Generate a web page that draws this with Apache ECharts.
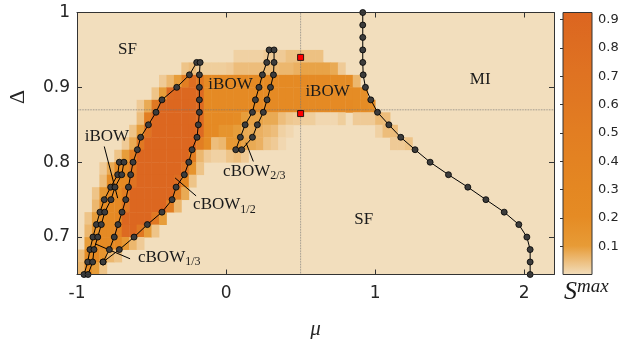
<!DOCTYPE html>
<html>
<head>
<meta charset="utf-8">
<script src="https://cdn.jsdelivr.net/npm/echarts@6/dist/echarts.min.js"></script>
<style>
html, body { margin: 0; padding: 0; background: #fff; }
#chart { width: 625px; height: 339px; }
</style>
</head>
<body>
<div id="chart"></div>
<script>
// simulation grid: mu every 0.05, delta every 1/60 starting at 0.65
var muStep = 0.05;
var deltaStep = 1 / 60;
var deltaStart = 0.65;

var muTicks = [-1, 0, 1, 2];
var deltaTicks = [0.7, 0.8, 0.9, 1];
var cbarTicks = [0.1, 0.2, 0.3, 0.4, 0.5, 0.6, 0.7, 0.8, 0.9];
var smaxTop = 0.925;

// colour map for S^max, evenly spread over 0..smaxTop
var cmap = ['#f2debd', '#e79b36', '#e58b24', '#e48722', '#e38222',
            '#e27d22', '#e07722', '#df7222', '#dd6c21', '#dc6520'];

// S^max: [delta row, first mu, values every muStep]
var heatRuns = [
    [17, 0.05, [0.02, 0.02, 0.02, 0.02, 0.03, 0.03, 0.03, 0.045, 0.045, 0.045, 0.045, 0.045]],
    [16, -0.3, [0.04, 0.05, 0.025, 0.025, 0.025, 0.025, 0.03, 0.05, 0.05, 0.05, 0.05, 0.055, 0.055, 0.06, 0.06, 0.07, 0.09, 0.09, 0.09, 0.09, 0.08, 0.03]],
    [15, -0.45, [0.03, 0.06, 0.1, 0.5, 0.8, 0.6, 0.22, 0.22, 0.22, 0.22, 0.22, 0.22, 0.22, 0.22, 0.22, 0.22, 0.22, 0.22, 0.22, 0.22, 0.22, 0.22, 0.22, 0.2, 0.2, 0.2, 0.06]],
    [14, -0.5, [0.04, 0.1, 0.85, 0.88, 0.88, 0.88, 0.85, 0.24, 0.22, 0.22, 0.22, 0.22, 0.22, 0.22, 0.22, 0.22, 0.22, 0.22, 0.22, 0.22, 0.22, 0.22, 0.22, 0.22, 0.22, 0.22, 0.2, 0.2, 0.18]],
    [13, -0.6, [0.03, 0.08, 0.6, 0.88, 0.9, 0.9, 0.9, 0.88, 0.85, 0.24, 0.22, 0.22, 0.22, 0.22, 0.22, 0.22, 0.22, 0.22, 0.22, 0.22, 0.22, 0.22, 0.22, 0.22, 0.22, 0.22, 0.22, 0.22, 0.22, 0.2, 0.2, 0.18]],
    [12, -0.6, [0.05, 0.5, 0.88, 0.9, 0.9, 0.9, 0.9, 0.88, 0.85, 0.22, 0.22, 0.22, 0.22, 0.2, 0.1, 0.09, 0.09, 0.08, 0.08, 0.05, 0.035, 0.03, 0.025, 0.025, 0.01, 0.01, 0.01, 0.025, 0, 0.03, 0.03, 0.03, 0.055, 0.05]],
    [11, -0.65, [0.04, 0.1, 0.7, 0.9, 0.9, 0.9, 0.9, 0.9, 0.9, 0.85, 0.25, 0.22, 0.15, 0.15, 0.1, 0.08, 0.08, 0.07, 0.06, 0.05, 0.02, 0.01]],
    [11, 1.0, [0.02, 0.05, 0.05]],
    [10, -0.7, [0.03, 0.08, 0.6, 0.9, 0.9, 0.9, 0.9, 0.9, 0.9, 0.9, 0.5, 0.2, 0.05, 0.06, 0.12, 0.12, 0.09, 0.08, 0.07, 0.04, 0.03, 0.01]],
    [10, 1.1, [0.03, 0.03, 0.04]],
    [9, -0.75, [0.04, 0.1, 0.5, 0.9, 0.9, 0.9, 0.9, 0.9, 0.9, 0.9, 0.5, 0.06, 0.03, 0.02, 0.02, 0.04, 0.05, 0.03]],
    [8, -0.85, [0.03, 0.08, 0.2, 0.22, 0.6, 0.9, 0.9, 0.9, 0.9, 0.9, 0.9, 0.7, 0.15, 0.04]],
    [7, -0.85, [0.05, 0.2, 0.22, 0.25, 0.7, 0.9, 0.9, 0.9, 0.9, 0.9, 0.8, 0.3, 0.04]],
    [6, -0.9, [0.04, 0.12, 0.22, 0.22, 0.5, 0.9, 0.9, 0.9, 0.9, 0.9, 0.9, 0.5, 0.08]],
    [5, -0.9, [0.06, 0.2, 0.22, 0.22, 0.6, 0.9, 0.9, 0.9, 0.9, 0.9, 0.5, 0.06]],
    [4, -0.95, [0.04, 0.1, 0.2, 0.22, 0.3, 0.9, 0.9, 0.9, 0.9, 0.6, 0.1]],
    [3, -0.95, [0.06, 0.15, 0.22, 0.22, 0.4, 0.85, 0.9, 0.6, 0.1, 0.04]],
    [2, -0.95, [0.1, 0.2, 0.22, 0.22, 0.25, 0.12, 0.06, 0.03]],
    [1, -1.0, [0.05, 0.2, 0.22, 0.15, 0.06, 0.04]],
    [0, -1.0, [0.06, 0.2, 0.1, 0.04]]
];

// phase boundaries [mu, delta]
var lineMI = [[0.917, 1], [0.917, 0.9833], [0.917, 0.9667], [0.917, 0.95], [0.917, 0.9333], [0.92, 0.9167],
    [0.935, 0.9], [0.971, 0.8833], [1.016, 0.8667], [1.092, 0.85], [1.172, 0.8333], [1.268, 0.8167],
    [1.369, 0.8], [1.492, 0.7833], [1.622, 0.7667], [1.743, 0.75], [1.866, 0.7333], [1.964, 0.7167],
    [2.018, 0.7], [2.04, 0.6833], [2.04, 0.6667], [2.04, 0.65]];
var lineHalfLeft = [[-0.197, 0.9333], [-0.246, 0.9167], [-0.331, 0.9], [-0.43, 0.8833], [-0.47, 0.8667],
    [-0.521, 0.85], [-0.573, 0.8333], [-0.595, 0.8167], [-0.624, 0.8], [-0.64, 0.7833], [-0.655, 0.7667],
    [-0.673, 0.75], [-0.698, 0.7333], [-0.725, 0.7167], [-0.75, 0.7], [-0.783, 0.6833], [-0.825, 0.6667]];
var lineHalfRight = [[-0.174, 0.9333], [-0.179, 0.9167], [-0.179, 0.9], [-0.179, 0.8833], [-0.179, 0.8667],
    [-0.186, 0.85], [-0.195, 0.8333], [-0.228, 0.8167], [-0.25, 0.8], [-0.28, 0.7833], [-0.335, 0.7667],
    [-0.362, 0.75], [-0.43, 0.7333], [-0.528, 0.7167], [-0.617, 0.7], [-0.716, 0.6833], [-0.825, 0.6667]];
var lineThirdA = [[-0.716, 0.8], [-0.727, 0.7833], [-0.774, 0.7667], [-0.817, 0.75], [-0.846, 0.7333],
    [-0.87, 0.7167], [-0.893, 0.7], [-0.913, 0.6833], [-0.928, 0.6667], [-0.953, 0.65]];
var lineThirdB = [[-0.685, 0.8], [-0.7, 0.7833], [-0.745, 0.7667], [-0.772, 0.75], [-0.814, 0.7333],
    [-0.837, 0.7167], [-0.861, 0.7], [-0.886, 0.6833], [-0.895, 0.6667], [-0.926, 0.65]];
var lineTwoThirdA = [[0.289, 0.95], [0.273, 0.9333], [0.244, 0.9167], [0.221, 0.9], [0.197, 0.8833],
    [0.177, 0.8667], [0.128, 0.85], [0.096, 0.8333], [0.065, 0.8167]];
var lineTwoThirdB = [[0.322, 0.95], [0.322, 0.9333], [0.318, 0.9167], [0.298, 0.9], [0.275, 0.8833],
    [0.25, 0.8667], [0.21, 0.85], [0.177, 0.8333], [0.105, 0.8167]];

// label pointers
var pointers = [
    [[-0.817, 0.821], [-0.727, 0.752]],
    [[-0.342, 0.779], [-0.201, 0.755]],
    [[0.134, 0.826], [0.183, 0.801]],
    [[-0.879, 0.691], [-0.644, 0.671]]
];

var cutMu = 0.5;
var cutDelta = 0.87;
var marked = [[0.5, 0.94], [0.5, 0.865]];

var labelText = ['SF', 'iBOW', 'iBOW', 'MI', 'SF', 'iBOW',
    '{m|cBOW}{s|1/2}', '{m|cBOW}{s|2/3}', '{m|cBOW}{s|1/3}'];
var labelPos = [[-0.661, 0.95], [0.03, 0.904], [0.681, 0.894], [1.705, 0.911], [0.924, 0.724],
    [-0.799, 0.834], [-0.221, 0.743], [-0.02, 0.788], [-0.591, 0.673]];
var labelAlign = ['center', 'center', 'center', 'center', 'center', 'center', 'left', 'left', 'left'];

var serif = 'Liberation Serif';
var axisColor = '#333';

var heatData = [];
heatRuns.forEach(function (run) {
    var d0 = deltaStart + run[0] * deltaStep;
    run[2].forEach(function (v, i) {
        if (v > 0) {
            heatData.push([+(run[1] + i * muStep).toFixed(3), d0, v]);
        }
    });
});

var boundary = function (data) {
    return {
        type: 'line', data: data, xAxisIndex: 0, yAxisIndex: 0,
        symbol: 'circle', symbolSize: 6, clip: false, z: 4,
        lineStyle: { color: '#000', width: 1 },
        itemStyle: { color: '#3c3c3c', borderColor: '#000', borderWidth: 0.8 }
    };
};

var series = [];

series.push({
    type: 'custom', data: heatData, xAxisIndex: 0, yAxisIndex: 0, z: 1,
    renderItem: function (params, api) {
        var p0 = api.coord([api.value(0), api.value(1) + deltaStep]);
        var p1 = api.coord([api.value(0) + muStep, api.value(1)]);
        return {
            type: 'rect',
            shape: { x: p0[0], y: p0[1], width: p1[0] - p0[0] + 0.4, height: p1[1] - p0[1] + 0.4 },
            style: { fill: api.visual('color') }
        };
    }
});

series.push({
    type: 'line', data: [[cutMu, 0.65], [cutMu, 1]], symbol: 'none', z: 3,
    lineStyle: { color: '#777', width: 0.8, type: 'dotted' }
});
series.push({
    type: 'line', data: [[-1, cutDelta], [2.2, cutDelta]], symbol: 'none', z: 3,
    lineStyle: { color: '#777', width: 0.8, type: 'dotted' }
});

pointers.forEach(function (p) {
    series.push({
        type: 'line', data: p, symbol: 'none', z: 3,
        lineStyle: { color: '#000', width: 1 }
    });
});

[lineMI, lineHalfLeft, lineHalfRight, lineThirdA, lineThirdB, lineTwoThirdA, lineTwoThirdB].forEach(function (d) {
    series.push(boundary(d));
});

series.push({
    type: 'scatter', data: marked, symbol: 'rect', symbolSize: 6, z: 6,
    itemStyle: { color: '#ff0000', borderColor: '#000', borderWidth: 0.8, opacity: 1 }
});

series.push({
    type: 'custom', data: labelPos, xAxisIndex: 0, yAxisIndex: 0, z: 7,
    renderItem: function (params, api) {
        var p = api.coord([api.value(0), api.value(1)]);
        var i = params.dataIndex;
        return {
            type: 'text', x: p[0], y: p[1],
            style: {
                text: labelText[i], x: 0, y: 0,
                align: labelAlign[i], verticalAlign: 'middle',
                fontFamily: serif, fontSize: 17, fill: '#1a1a1a',
                rich: {
                    m: { fontFamily: serif, fontSize: 17, lineHeight: 22, verticalAlign: 'middle', fill: '#1a1a1a' },
                    s: { fontFamily: serif, fontSize: 12, lineHeight: 12, verticalAlign: 'bottom', fill: '#1a1a1a' }
                }
            }
        };
    }
});

// colour bar
series.push({
    type: 'custom', data: [[0, smaxTop]], xAxisIndex: 2, yAxisIndex: 2, z: 1,
    renderItem: function (params, api) {
        var p0 = api.coord([0, smaxTop]);
        var p1 = api.coord([1, 0]);
        var stops = cmap.map(function (c, i) {
            return { offset: i / (cmap.length - 1), color: c };
        });
        return {
            type: 'rect',
            shape: { x: p0[0], y: p0[1], width: p1[0] - p0[0], height: p1[1] - p0[1] },
            style: {
                fill: new echarts.graphic.LinearGradient(0, 1, 0, 0, stops),
                stroke: axisColor, lineWidth: 1
            }
        };
    }
});

var frameAxis = function (extra) {
    var base = {
        type: 'value', z: 5,
        axisLine: { show: true, onZero: false, lineStyle: { color: axisColor, width: 1 } },
        axisTick: { show: true, inside: true, length: 5, lineStyle: { color: axisColor } },
        splitLine: { show: false }
    };
    for (var k in extra) base[k] = extra[k];
    return base;
};

var chart = echarts.init(document.getElementById('chart'), null, { renderer: 'canvas' });

chart.setOption({
    animation: false,
    grid: [
        { left: 77, top: 12.5, width: 477, height: 262, show: true, backgroundColor: cmap[0], borderWidth: 0, containLabel: false, outerBoundsMode: 'none' },
        { left: 563, top: 12.5, width: 29, height: 262, show: false, containLabel: false, outerBoundsMode: 'none' }
    ],
    visualMap: {
        show: false, type: 'continuous', seriesIndex: 0, dimension: 2,
        min: 0, max: smaxTop, inRange: { color: cmap }
    },
    xAxis: [
        frameAxis({
            gridIndex: 0, min: -1, max: 2.2, position: 'bottom',
            axisTick: { show: true, inside: true, length: 5, customValues: muTicks, lineStyle: { color: axisColor } },
            axisLabel: { customValues: muTicks, margin: 11, fontSize: 17, color: '#262626', fontFamily: 'DejaVu Sans' },
            name: '\u03bc', nameLocation: 'middle', nameGap: 44,
            nameTextStyle: { fontFamily: serif, fontStyle: 'italic', fontSize: 21, color: '#262626' }
        }),
        frameAxis({
            gridIndex: 0, min: -1, max: 2.2, position: 'top',
            axisTick: { show: true, inside: true, length: 5, customValues: muTicks, lineStyle: { color: axisColor } },
            axisLabel: { show: false }
        }),
        { gridIndex: 1, type: 'value', min: 0, max: 1, show: false }
    ],
    yAxis: [
        frameAxis({
            gridIndex: 0, min: 0.65, max: 1, position: 'left',
            axisTick: { show: true, inside: true, length: 5, customValues: deltaTicks, lineStyle: { color: axisColor } },
            axisLabel: { customValues: deltaTicks, margin: 7, fontSize: 17, color: '#262626', fontFamily: 'DejaVu Sans' }
        }),
        frameAxis({
            gridIndex: 0, min: 0.65, max: 1, position: 'right',
            axisTick: { show: true, inside: true, length: 5, customValues: deltaTicks, lineStyle: { color: axisColor } },
            axisLabel: { show: false }
        }),
        {
            gridIndex: 1, type: 'value', min: 0, max: smaxTop, position: 'right', z: 5,
            axisLine: { show: false },
            axisTick: { show: true, inside: true, length: 3, customValues: cbarTicks, lineStyle: { color: axisColor } },
            axisLabel: { customValues: cbarTicks, margin: 6, fontSize: 13, color: '#262626', fontFamily: 'DejaVu Sans' },
            splitLine: { show: false }
        }
    ],
    graphic: [
        {
            type: 'text', x: 18, y: 97, rotation: Math.PI / 2, z: 10,
            style: { text: '\u0394', fontFamily: serif, fontSize: 22, fill: '#262626', align: 'center', verticalAlign: 'middle' }
        },
        {
            type: 'text', x: 564, y: 277, z: 10,
            style: {
                text: '{s|S}{m|max}', fill: '#1a1a1a',
                rich: {
                    s: { fontFamily: serif, fontStyle: 'italic', fontSize: 26, lineHeight: 28, verticalAlign: 'bottom', fill: '#1a1a1a' },
                    m: { fontFamily: serif, fontStyle: 'italic', fontSize: 19, lineHeight: 19, verticalAlign: 'top', fill: '#1a1a1a' }
                }
            }
        }
    ],
    series: series
});
</script>
</body>
</html>
